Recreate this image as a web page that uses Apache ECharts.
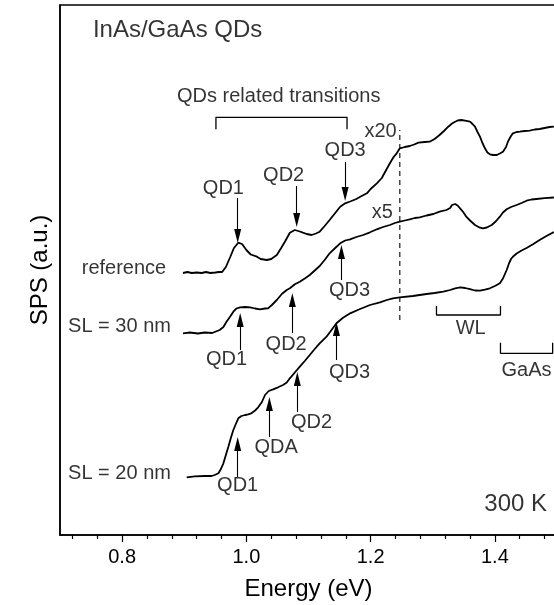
<!DOCTYPE html>
<html>
<head>
<meta charset="utf-8">
<title>SPS spectra</title>
<script src="https://cdn.jsdelivr.net/npm/echarts@6/dist/echarts.min.js"></script>
<style>
html, body { margin: 0; padding: 0; background: #fff; }
#main { width: 554px; height: 605px; }
</style>
</head>
<body>
<div id="main"></div>
<script>
// photon energy (eV) vs SPS signal (a.u., curves offset vertically)
var refCurve = [
  [0.898, 262], [0.905, 263], [0.912, 262], [0.920, 262.5], [0.928, 262], [0.935, 263],
  [0.942, 262], [0.950, 262.5], [0.956, 263], [0.961, 263], [0.967, 268], [0.974, 278],
  [0.980, 287], [0.987, 292.3], [0.993, 291], [1.000, 285], [1.007, 280.5], [1.017, 278.3],
  [1.023, 276], [1.033, 275], [1.040, 276], [1.049, 280], [1.056, 287], [1.062, 293.3],
  [1.070, 302.3], [1.078, 305], [1.081, 304.3], [1.086, 303.5], [1.091, 302.3], [1.097, 301],
  [1.105, 300], [1.112, 301.5], [1.118, 303.3], [1.126, 309], [1.134, 315], [1.143, 322],
  [1.151, 328.3], [1.159, 331.7], [1.167, 333.5], [1.177, 336], [1.184, 338.5], [1.194, 341.7],
  [1.200, 346], [1.210, 351.7], [1.218, 357], [1.225, 365], [1.231, 371.7], [1.237, 378],
  [1.242, 381.7], [1.247, 386.7], [1.255, 388], [1.263, 389], [1.270, 390.5], [1.277, 392.3],
  [1.287, 393], [1.295, 393.3], [1.303, 396], [1.311, 400], [1.318, 404], [1.325, 408.3],
  [1.331, 411.5], [1.336, 413.3], [1.340, 414.5], [1.346, 415], [1.352, 414.3], [1.360, 413.3],
  [1.364, 411], [1.368, 408.3], [1.372, 403], [1.376, 398.3], [1.380, 392], [1.384, 386.7],
  [1.388, 382.5], [1.392, 380.7], [1.397, 380], [1.403, 380], [1.408, 381.5], [1.413, 383.3],
  [1.418, 388], [1.421, 393.3], [1.425, 398], [1.429, 401.7], [1.435, 403], [1.440, 403.3],
  [1.448, 404], [1.456, 404.3], [1.464, 405.5], [1.472, 406], [1.480, 407], [1.488, 408],
  [1.495, 408.3]
];
var sl30Curve = [
  [0.898, 201.7], [0.909, 202.5], [0.922, 201.5], [0.933, 202.5], [0.945, 202], [0.957, 205],
  [0.963, 208], [0.968, 213.3], [0.974, 218.5], [0.979, 223.3], [0.984, 226.5], [0.990, 227.7],
  [0.998, 228], [1.006, 227.7], [1.014, 226.5], [1.022, 225.7], [1.030, 226.5], [1.035, 226.7],
  [1.041, 230], [1.049, 235], [1.057, 241], [1.065, 245], [1.070, 246.7], [1.078, 250.8],
  [1.086, 253.3], [1.094, 256.5], [1.102, 260], [1.110, 264.5], [1.118, 269], [1.126, 275],
  [1.134, 281.7], [1.143, 287], [1.151, 291.7], [1.159, 294.5], [1.167, 295.7], [1.177, 298],
  [1.188, 300], [1.199, 302.7], [1.210, 305.7], [1.220, 308], [1.231, 310], [1.239, 312],
  [1.247, 313.3], [1.255, 314.5], [1.263, 315.7], [1.271, 317], [1.279, 317.7], [1.290, 319.5],
  [1.301, 321], [1.311, 323.3], [1.322, 325], [1.328, 327], [1.331, 330], [1.336, 331],
  [1.340, 329.5], [1.344, 326.7], [1.349, 323], [1.354, 318.3], [1.360, 314.5], [1.368, 310],
  [1.376, 307.3], [1.381, 306.7], [1.387, 307.5], [1.395, 310], [1.402, 314], [1.408, 318.3],
  [1.413, 322.5], [1.419, 325.7], [1.426, 328], [1.435, 330], [1.443, 332], [1.451, 334.3],
  [1.459, 335.5], [1.467, 336], [1.480, 336.8], [1.495, 337.5]
];
var sl20Curve = [
  [0.904, 57.7], [0.917, 58.7], [0.933, 59], [0.944, 59], [0.949, 60], [0.955, 61.7],
  [0.959, 66], [0.963, 71.7], [0.967, 80], [0.971, 88.3], [0.975, 97], [0.979, 105],
  [0.983, 111], [0.987, 116.7], [0.992, 119], [0.998, 120], [1.003, 120.7], [1.008, 121.7],
  [1.014, 124.5], [1.019, 127.7], [1.025, 133], [1.030, 140], [1.036, 144], [1.043, 145.7],
  [1.051, 147.7], [1.059, 150], [1.065, 152.5], [1.070, 156.7], [1.078, 162.5], [1.086, 168.3],
  [1.094, 174], [1.102, 180], [1.110, 186], [1.118, 191.7], [1.129, 198.3], [1.137, 205],
  [1.145, 211.7], [1.155, 217], [1.167, 221.7], [1.183, 226], [1.199, 230], [1.215, 232.7],
  [1.226, 235], [1.236, 236.7], [1.247, 237.7], [1.268, 239], [1.290, 241], [1.303, 242],
  [1.317, 243.3], [1.328, 245], [1.336, 246.7], [1.344, 247.7], [1.352, 247], [1.360, 245.8],
  [1.368, 244.5], [1.376, 244.3], [1.384, 245.3], [1.392, 246.7], [1.400, 249], [1.408, 251.7],
  [1.413, 256.5], [1.419, 265], [1.423, 272], [1.426, 276], [1.429, 278.3], [1.435, 281.5],
  [1.443, 284.5], [1.451, 287], [1.462, 291], [1.472, 295], [1.483, 299], [1.495, 303]
];

var majorTicks = [0.8, 1.0, 1.2, 1.4];
var minorTicks = [0.72, 0.76, 0.84, 0.88, 0.92, 0.96, 1.04, 1.08, 1.12, 1.16,
                  1.24, 1.28, 1.32, 1.36, 1.44, 1.48];

// arrows: [energy, tail y, tip y]
var arrows = [
  [0.986, 337, 292], [1.081, 349, 308], [1.159, 373, 334],
  [0.990, 185, 222], [1.074, 202, 242], [1.153, 255, 290],
  [0.986, 58, 98], [1.037, 98, 138], [1.082, 123, 163], [1.145, 175, 213]
];

// text: [text, energy, y, align, size]
var labels = [
  ['InAs/GaAs QDs', 0.753, 505, 'left', 24],
  ['QDs related transitions', 1.052, 439, 'center', 20],
  ['x20', 1.242, 404, 'right', 20],
  ['QD1', 0.963, 347, 'center', 20],
  ['QD2', 1.060, 360, 'center', 20],
  ['QD3', 1.159, 385, 'center', 20],
  ['x5', 1.236, 322.5, 'right', 20],
  ['QD1', 0.968, 175.5, 'center', 20],
  ['QD2', 1.064, 190.5, 'center', 20],
  ['QD3', 1.166, 244.5, 'center', 20],
  ['QD1', 0.986, 49.5, 'center', 20],
  ['QDA', 1.048, 88, 'center', 20],
  ['QD2', 1.105, 112.5, 'center', 20],
  ['QD3', 1.166, 162.5, 'center', 20],
  ['reference', 0.735, 267, 'left', 20],
  ['SL = 30 nm', 0.713, 209, 'left', 20],
  ['SL = 20 nm', 0.713, 62, 'left', 20],
  ['WL', 1.361, 207, 'center', 20],
  ['GaAs', 1.451, 164.5, 'center', 20],
  ['300 K', 1.484, 31, 'right', 24]
];

// brackets: [from eV, to eV, bar y, end y]
var brackets = [
  [0.951, 1.162, 417.7, 405.7],
  [1.306, 1.409, 220, 229],
  [1.409, 1.493, 181.7, 192.3]
];
var dashed = [1.247, 215, 405];

var FONT = "'Liberation Sans', Arial, sans-serif";
var myChart = echarts.init(document.getElementById('main'));

function curve(d) {
  return {
    type: 'line', data: d, showSymbol: false, silent: true,
    lineStyle: { color: '#000', width: 1.8 }
  };
}

var series = [curve(refCurve), curve(sl30Curve), curve(sl20Curve)];

brackets.forEach(function (b) {
  series.push({
    type: 'line', showSymbol: false, silent: true,
    lineStyle: { color: '#000', width: 1.3 },
    data: [[b[0], b[3]], [b[0], b[2]], [b[1], b[2]], [b[1], b[3]]]
  });
});

series.push({
  type: 'line', showSymbol: false, silent: true,
  lineStyle: { color: '#000', width: 1.1, type: [5, 4] },
  data: [[dashed[0], dashed[1]], [dashed[0], dashed[2]]]
});

series.push({
  type: 'scatter', symbolSize: 1, silent: true,
  itemStyle: { color: 'rgba(0,0,0,0)' },
  label: { show: true, position: 'inside', color: '#000', verticalAlign: 'middle', fontFamily: FONT },
  data: labels.map(function (l) {
    return {
      value: [l[1], l[2]],
      label: { formatter: l[0], align: l[3], fontSize: l[4] }
    };
  }),
  markLine: {
    silent: true, animation: false,
    symbol: ['none', 'triangle'], symbolSize: [7, 14],
    lineStyle: { color: '#000', width: 1.1, type: 'solid' },
    label: { show: false },
    data: arrows.map(function (a) {
      var dir = a[2] > a[1] ? 1 : -1;
      return [{ coord: [a[0], a[1]] }, { coord: [a[0], a[2] - dir * 7] }];
    })
  }
});

var option = {
  animation: false,
  textStyle: { fontFamily: FONT },
  grid: {
    left: 60, top: 5, width: 497, height: 530,
    outerBoundsMode: 'none',
    show: true, borderColor: '#000', borderWidth: 1.5
  },
  xAxis: [
    {
      type: 'value', min: 0.7, max: 1.5,
      name: 'Energy (eV)', nameLocation: 'middle', nameGap: 42,
      nameTextStyle: { fontSize: 24, color: '#000', fontFamily: FONT },
      splitLine: { show: false },
      axisLine: { lineStyle: { color: '#000', width: 1.5 } },
      axisTick: { customValues: majorTicks, length: 7, lineStyle: { color: '#000', width: 1.2 } },
      axisLabel: {
        customValues: majorTicks, fontSize: 20, color: '#000', margin: 12, fontFamily: FONT,
        formatter: function (v) { return v.toFixed(1); }
      }
    },
    {
      type: 'value', min: 0.7, max: 1.5, position: 'bottom',
      splitLine: { show: false },
      axisLine: { show: false },
      axisTick: { customValues: minorTicks, length: 4, lineStyle: { color: '#000', width: 1.2 } },
      axisLabel: { show: false }
    }
  ],
  yAxis: {
    type: 'value', min: 0, max: 530,
    name: 'SPS (a.u.)', nameLocation: 'middle', nameGap: 8,
    nameTextStyle: { fontSize: 24, color: '#000', fontFamily: FONT },
    splitLine: { show: false },
    axisLine: { show: true, lineStyle: { color: '#000', width: 1.5 } },
    axisTick: { show: false },
    axisLabel: { show: false }
  },
  series: series
};
myChart.setOption(option);
</script>
</body>
</html>
